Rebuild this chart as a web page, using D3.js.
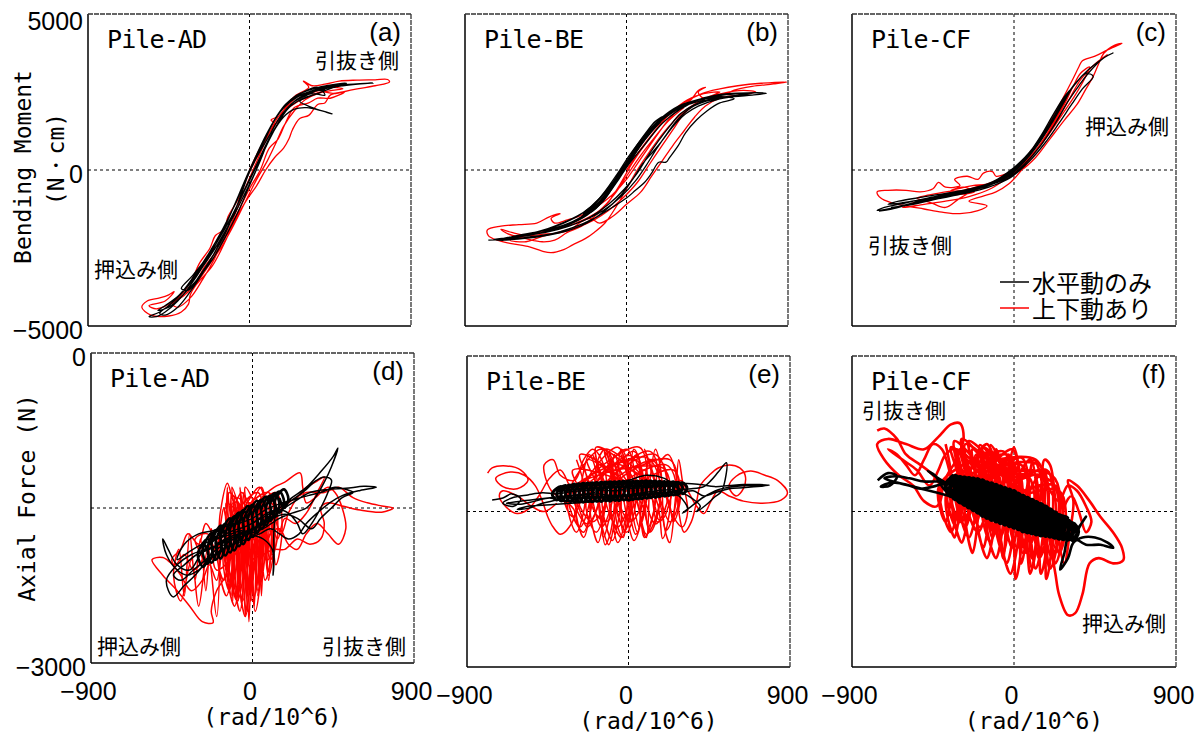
<!DOCTYPE html>
<html><head><meta charset="utf-8">
<script src="https://cdn.jsdelivr.net/npm/d3@7"></script>
<style>body{margin:0;background:#fff}</style>
</head><body>
<svg id="chart" width="1203" height="733"></svg>
<script>
const xTicks = [-900, 0, 900];
const momentTicks = [5000, 0, -5000];
const axialTicks = [0, -3000];
const pileNames = ["Pile-AD","Pile-BE","Pile-CF","Pile-AD","Pile-BE","Pile-CF"];
const panelTags = ["(a)","(b)","(c)","(d)","(e)","(f)"];
const seriesNames = ["水平動のみ","上下動あり"];
const sideLabels = ["押込み側","引抜き側"];

const blackA = [[0,0],[40,500],[90,1100],[150,1700],[200,2100],[260,2350],[340,2500],[420,2560],[380,2450],[300,2300],[220,2000],[160,1500],[100,900],[50,300],[0,-300],[-50,-900],[-110,-1600],[-180,-2300],[-250,-2900],[-320,-3400],[-380,-3800],[-340,-3850],[-280,-3400],[-210,-2800],[-140,-2100],[-80,-1300],[-30,-500],[20,200],[80,900],[140,1600],[200,2050],[270,2350],[370,2580],[500,2720],[690,2790],[620,2760],[520,2700],[430,2620],[340,2480],[260,2250],[200,1900],[140,1300],[80,600],[30,-100],[-30,-800],[-100,-1600],[-180,-2400],[-260,-3100],[-340,-3700],[-420,-4200],[-500,-4550],[-560,-4700],[-520,-4700],[-470,-4550],[-400,-4200],[-330,-3700],[-260,-3100],[-190,-2400],[-120,-1600],[-60,-800],[0,0],[60,700],[120,1400],[180,1950],[250,2350],[330,2560],[430,2700],[540,2780],[470,2650],[400,2500],[330,2350],[280,2200],[350,2000],[430,1850],[460,1800],[400,1900],[320,2000],[250,1950],[190,1700],[130,1200],[80,600],[20,-100],[-40,-800],[-110,-1600],[-190,-2400],[-280,-3200],[-360,-3800],[-440,-4300],[-500,-4600],[-470,-4650],[-400,-4400],[-330,-3900],[-260,-3300],[-190,-2600],[-120,-1800],[-60,-1000],[-10,-200],[40,500],[100,1200],[160,1800],[220,2200],[300,2500],[380,2650],[420,2400],[350,2450],[290,2350],[230,2100],[170,1600],[110,1000],[60,300],[0,-500],[-60,-1300],[-130,-2100],[-210,-2900],[-290,-3500],[-370,-4000],[-450,-4400],[-510,-4500],[-470,-4350],[-390,-4000],[-310,-3400],[-230,-2700],[-150,-1900],[-80,-1100],[-20,-300],[40,400],[110,1100],[170,1700],[240,2150],[320,2400],[400,2600],[480,2650]];
const redA = [[0,0],[50,600],[110,1200],[140,1500],[120,1600],[170,1750],[210,2100],[260,2400],[330,2650],[300,2850],[350,2700],[420,2750],[500,2850],[600,2880],[700,2890],[770,2900],[780,2820],[700,2700],[600,2600],[520,2500],[450,2400],[420,2150],[380,2100],[330,1750],[280,1650],[240,1300],[220,1000],[190,700],[140,400],[90,0],[40,-500],[-20,-1000],[-80,-1600],[-120,-2100],[-170,-2700],[-210,-3100],[-270,-3500],[-300,-3700],[-330,-4000],[-340,-4300],[-380,-4550],[-450,-4680],[-550,-4650],[-600,-4400],[-570,-4200],[-500,-4100],[-450,-4000],[-420,-3900],[-470,-4200],[-560,-4350],[-520,-4450],[-450,-4300],[-380,-4000],[-320,-3500],[-280,-3000],[-220,-2500],[-190,-2100],[-140,-1900],[-120,-1500],[-60,-900],[-20,-300],[40,400],[90,1000],[150,1500],[200,1900],[270,2200],[330,2350],[400,2500],[480,2450],[530,2500],[450,2300],[380,2300],[330,2150],[250,2000],[200,1500],[160,1000],[110,700],[60,0],[0,-600],[-60,-1300],[-110,-1900],[-170,-2500],[-250,-3100],[-300,-3600],[-360,-4000],[-430,-4300],[-400,-4400],[-330,-4100],[-260,-3500],[-200,-2900],[-160,-2400],[-100,-1700],[-40,-800],[20,0],[80,800],[120,1300],[160,1700],[220,2100],[280,2400],[360,2500],[440,2650],[520,2600],[460,2550],[380,2450],[310,2250],[250,1900],[190,1400],[150,900],[100,300],[40,-300],[-30,-1100],[-100,-1900],[-160,-2500],[-220,-3000],[-280,-3500],[-350,-3950],[-420,-4200],[-480,-4400]];

const blackB = [[-770,-2250],[-700,-2230],[-600,-2150],[-500,-2000],[-400,-1800],[-300,-1550],[-200,-1200],[-100,-600],[0,100],[100,800],[200,1500],[300,1950],[400,2250],[500,2400],[620,2460],[780,2460],[700,2400],[600,2350],[500,2250],[400,2050],[330,1800],[260,1400],[200,950],[150,600],[90,200],[40,-250],[-30,-800],[-120,-1300],[-220,-1700],[-330,-1950],[-450,-2100],[-580,-2200],[-700,-2250],[-650,-2180],[-550,-2100],[-430,-1950],[-320,-1750],[-220,-1450],[-130,-1000],[-60,-400],[10,200],[80,800],[160,1400],[240,1800],[330,2100],[430,2280],[530,2350],[600,2280],[520,2150],[450,1900],[390,1600],[330,1200],[290,800],[240,400],[220,250],[180,250],[140,-100],[100,-400],[50,-650],[0,-900],[-80,-1200],[-180,-1550],[-300,-1850],[-420,-2050],[-550,-2150],[-680,-2250],[-740,-2230],[-620,-2150],[-500,-2050],[-380,-1850],[-270,-1600],[-170,-1200],[-90,-600],[-20,0],[60,700],[140,1300],[230,1800],[320,2100],[430,2300],[560,2420],[700,2450],[600,2380],[480,2280],[380,2100],[300,1800],[240,1400],[180,950],[120,450],[60,-100],[-10,-600],[-100,-1100],[-200,-1500],[-320,-1800],[-450,-2000],[-580,-2100],[-700,-2200],[-600,-2100],[-480,-1950],[-350,-1700],[-250,-1400],[-150,-900],[-60,-200],[20,500],[100,1100],[190,1650],[290,2050],[400,2250],[520,2300],[440,2200],[360,2000],[290,1650],[230,1200],[170,700],[110,150],[50,-350],[-30,-850],[-130,-1300],[-250,-1650],[-380,-1900],[-520,-2050],[-650,-2150],[-560,-2050],[-430,-1900],[-300,-1650],[-190,-1250],[-100,-650],[-30,0],[50,600],[130,1200],[220,1700],[320,2050],[440,2250]];
const blackB2 = [[-250,-1500],[-200,-1250],[-150,-1000],[-100,-650],[-50,-250],[0,200],[50,650],[100,1050],[150,1400],[200,1700],[160,1550],[110,1200],[60,800],[10,350],[-40,-100],[-90,-500],[-140,-850],[-190,-1150],[-240,-1400],[-200,-1350],[-150,-1100],[-100,-750],[-50,-350],[0,100],[50,550],[100,950],[150,1300],[190,1550],[140,1250],[90,900],[40,450],[-10,0],[-60,-400],[-110,-800],[-160,-1100],[-210,-1350]];
const redB = [[0,0],[70,600],[150,1200],[230,1750],[320,2150],[420,2450],[520,2600],[620,2700],[750,2780],[894,2820],[820,2760],[700,2680],[600,2560],[560,2450],[500,2400],[430,2300],[400,2500],[440,2650],[400,2550],[360,2250],[300,2000],[240,1650],[180,1200],[120,700],[60,200],[0,-300],[-80,-800],[-160,-1150],[-250,-1450],[-330,-1600],[-400,-1700],[-420,-1550],[-370,-1400],[-430,-1500],[-500,-1700],[-600,-1750],[-700,-1800],[-775,-1920],[-770,-2100],[-720,-2250],[-650,-2350],[-550,-2450],[-470,-2600],[-420,-2650],[-350,-2550],[-300,-2400],[-230,-2200],[-180,-2000],[-120,-1700],[-60,-1200],[0,-600],[60,0],[130,600],[200,1150],[270,1600],[350,2000],[440,2300],[530,2450],[650,2550],[720,2500],[620,2400],[520,2300],[440,2050],[380,1700],[320,1250],[260,800],[200,300],[140,-200],[80,-700],[0,-1100],[-80,-1500],[-150,-1700],[-200,-1550],[-250,-1650],[-310,-1900],[-360,-2000],[-450,-2050],[-550,-2100],[-640,-2000],[-700,-1900],[-660,-2050],[-560,-2200],[-470,-2300],[-400,-2250],[-330,-2000],[-250,-1800],[-180,-1500],[-110,-1100],[-40,-500],[30,200],[100,800],[180,1400],[260,1900],[340,2250],[430,2450],[520,2500],[460,2350],[380,2100],[320,1800],[260,1300],[200,800],[130,200],[60,-400],[-20,-900],[-100,-1300],[-180,-1600],[-280,-1850],[-380,-2000],[-480,-2150],[-560,-2300],[-650,-2250],[-560,-2100],[-440,-1950],[-330,-1800],[-240,-1600],[-150,-1300],[-70,-800],[0,-200],[70,400],[150,1000],[230,1550],[320,2000]];

const blackC = [[-750,-1320],[-680,-1250],[-580,-1100],[-470,-950],[-350,-800],[-230,-650],[-120,-450],[-20,-100],[70,400],[160,1100],[250,2000],[330,2700],[420,3250],[500,3600],[550,3750],[500,3600],[420,3150],[360,2700],[300,2200],[230,1500],[150,800],[60,200],[-30,-250],[-150,-500],[-280,-700],[-420,-880],[-560,-1050],[-700,-1250],[-760,-1300],[-720,-1200],[-600,-1050],[-480,-900],[-350,-750],[-220,-580],[-100,-350],[0,0],[100,650],[190,1400],[270,2200],[340,2750],[400,3100],[440,3000],[380,2600],[320,2100],[250,1500],[170,850],[80,250],[-20,-250],[-140,-550],[-280,-760],[-420,-920],[-560,-1100],[-680,-1200],[-620,-1150],[-500,-1000],[-380,-850],[-260,-680],[-140,-450],[-40,-100],[60,400],[150,1050],[230,1800],[300,2450],[360,2900],[330,2700],[280,2200],[220,1600],[150,950],[70,350],[-30,-200],[-170,-520],[-330,-750],[-480,-920],[-620,-1050],[-700,-1100],[-640,-1000],[-520,-880],[-380,-750],[-240,-600],[-120,-380],[-20,-50],[80,500],[170,1200],[250,1950],[320,2600],[280,2350],[220,1800],[150,1100],[80,500],[0,-50],[-110,-420],[-250,-680],[-400,-870],[-560,-1000]];
const redC = [[0,0],[80,500],[160,1150],[230,1850],[290,2500],[330,2950],[360,3300],[380,3500],[450,3650],[520,3850],[600,4060],[560,4000],[500,3750],[470,3400],[440,3000],[400,2600],[350,2100],[280,1600],[200,1000],[120,400],[40,0],[-30,-100],[-100,-200],[-120,-50],[-170,-100],[-200,-300],[-260,-200],[-330,-300],[-300,-500],[-380,-550],[-420,-400],[-450,-600],[-520,-700],[-600,-650],[-700,-650],[-760,-700],[-740,-900],[-680,-1050],[-600,-1150],[-500,-1250],[-400,-1350],[-300,-1400],[-200,-1300],[-150,-1150],[-250,-1000],[-180,-850],[-100,-700],[-30,-450],[50,50],[130,700],[210,1400],[280,2100],[330,2700],[370,3100],[420,3300],[390,2900],[340,2400],[270,1800],[200,1200],[120,600],[40,100],[-50,-300],[-130,-600],[-250,-850],[-380,-1000],[-500,-1100],[-620,-1200],[-560,-1050],[-440,-900],[-330,-800],[-220,-700],[-280,-550],[-350,-650],[-230,-500],[-150,-450],[-60,-250],[30,150],[110,700],[190,1300],[260,1950],[310,2500],[280,2250],[220,1600],[150,1000],[70,400],[-20,-100],[-120,-400],[-220,-650],[-300,-900],[-380,-1200],[-460,-1050],[-540,-900],[-470,-800],[-380,-700],[-280,-650],[-180,-500],[-80,-300],[20,50],[100,500],[180,1100],[250,1700],[310,2300],[370,2900],[450,3400],[520,3700]];

const blackD = [[0,-1650],[80,-1550],[150,-1500],[220,-1400],[300,-1300],[380,-1150],[450,-1000],[476,-920],[440,-1100],[400,-1250],[350,-1400],[300,-1500],[220,-1550],[150,-1600],[60,-1700],[-20,-1750],[-100,-1800],[-180,-1850],[-260,-1900],[-340,-1950],[-420,-2050],[-480,-2200],[-443,-2360],[-380,-2250],[-320,-2150],[-250,-2000],[-200,-1850],[-150,-1800],[-80,-1750],[0,-1700],[80,-1620],[160,-1520],[240,-1430],[320,-1350],[420,-1320],[520,-1310],[620,-1290],[690,-1300],[600,-1330],[500,-1380],[430,-1450],[360,-1550],[300,-1650],[260,-1750],[200,-1800],[150,-1750],[100,-1700],[40,-1750],[-30,-1800],[-100,-1850],[-170,-1900],[-240,-2000],[-300,-2100],[-360,-2150],[-420,-2100],[-480,-1950],[-500,-1800],[-470,-1900],[-420,-2050],[-350,-2100],[-290,-1950],[-240,-1850],[-180,-1780],[-110,-1720],[-40,-1680],[30,-1620],[100,-1550],[170,-1480],[240,-1400],[300,-1320],[350,-1240],[400,-1200],[440,-1230],[420,-1350],[380,-1500],[330,-1650],[280,-1750],[250,-1650],[200,-1550],[140,-1520],[120,-1700],[120,-2000],[115,-2150],[110,-1900],[60,-1800],[0,-1760],[-60,-1720],[-130,-1760],[-200,-1800],[-280,-1850],[-350,-1920],[-420,-2000],[-380,-1850],[-300,-1750],[-220,-1720],[-150,-1680],[-80,-1650],[0,-1600],[70,-1520],[150,-1460],[230,-1420],[310,-1380],[380,-1350],[460,-1300],[520,-1320],[560,-1350],[500,-1400],[440,-1500],[380,-1600],[330,-1700],[250,-1600],[180,-1560],[110,-1600],[40,-1680],[-30,-1720],[-100,-1780],[-170,-1830],[-240,-1900],[-310,-1950],[-380,-2050],[-440,-2150],[-400,-2200],[-330,-2100],[-260,-2000],[-200,-1900],[-130,-1830],[-60,-1750],[10,-1700]];
const blackD2 = [[-275,-1830],[-245,-1950],[-275,-2070],[-305,-1950],[-250,-1800],[-222,-1920],[-252,-2040],[-278,-1910],[-225,-1740],[-198,-1890],[-228,-2030],[-250,-1880],[-200,-1710],[-172,-1860],[-204,-2000],[-228,-1850],[-176,-1670],[-150,-1830],[-178,-1990],[-205,-1830],[-150,-1650],[-122,-1800],[-152,-1960],[-178,-1790],[-126,-1600],[-98,-1770],[-125,-1930],[-152,-1770],[-100,-1580],[-72,-1740],[-102,-1910],[-128,-1735],[-75,-1545],[-48,-1710],[-76,-1870],[-102,-1700],[-50,-1520],[-22,-1680],[-52,-1850],[-78,-1680],[-25,-1480],[2,-1650],[-24,-1810],[-52,-1645],[0,-1470],[28,-1620],[2,-1780],[-26,-1615],[25,-1430],[52,-1590],[24,-1745],[-2,-1590],[50,-1420],[78,-1560],[52,-1700],[22,-1555],[75,-1390],[102,-1530],[76,-1665],[48,-1525],[100,-1380],[126,-1500],[100,-1625],[74,-1500],[125,-1355],[150,-1470],[126,-1585],[98,-1465],[150,-1340],[176,-1440],[152,-1545],[124,-1440],[175,-1320],[200,-1410],[176,-1500],[150,-1405]];
const redD = [[0,-1700],[100,-1600],[200,-1450],[300,-1350],[400,-1350],[480,-1300],[560,-1400],[640,-1450],[720,-1480],[784,-1500],[720,-1540],[600,-1520],[500,-1480],[420,-1450],[380,-1500],[400,-1650],[380,-1800],[320,-1850],[250,-1800],[180,-1900],[120,-1900],[60,-1950],[0,-2000],[-30,-2500],[-50,-1600],[-70,-2300],[-90,-1500],[-110,-2400],[-120,-1350],[-130,-2200],[-140,-1300],[-150,-2100],[-100,-1450],[-80,-2400],[-60,-1650],[-40,-2550],[-20,-1700],[0,-2300],[20,-1600],[40,-2200],[60,-1500],[80,-2100],[100,-1450],[110,-1900],[130,-1350],[90,-2000],[70,-1400],[50,-2350],[30,-1550],[10,-2450],[-10,-1650],[-30,-2100],[-50,-1350],[-80,-2200],[-110,-1450],[-150,-2150],[-200,-2300],[-230,-2500],[-220,-2610],[-280,-2600],[-350,-2450],[-420,-2300],[-500,-2150],[-560,-2000],[-500,-1980],[-430,-2050],[-380,-1950],[-330,-2100],[-280,-2000],[-320,-1800],[-250,-1750],[-200,-1950],[-180,-1550],[-140,-1260],[-100,-1450],[-60,-1350],[0,-1500],[50,-1400],[120,-1300],[180,-1250],[265,-1160],[280,-1300],[300,-1450],[350,-1400],[420,-1300],[460,-1350],[500,-1500],[520,-1700],[480,-1850],[420,-1750],[360,-1650],[300,-1750],[250,-1900],[200,-1850],[150,-1700],[100,-1750],[70,-2000],[50,-1500],[30,-2250],[10,-1550],[-10,-2400],[-30,-1600],[-50,-2250],[-70,-1500],[-90,-2350],[-110,-1650],[-130,-2100],[-160,-1500],[-200,-1800],[-260,-1650],[-300,-1850],[-360,-1750],[-400,-1900],[-450,-2000],[-400,-2150],[-340,-2300],[-280,-2200],[-240,-2050],[-200,-2200],[-160,-1800],[-120,-2350],[-90,-1600],[-60,-2450],[-40,-1550],[-20,-2600],[0,-1800],[30,-2350],[60,-1700],[90,-2200],[120,-1600],[160,-1750],[200,-1550],[250,-1400],[300,-1300],[350,-1250],[400,-1200],[360,-1350],[300,-1550],[240,-1650],[180,-1600],[140,-1800],[100,-1650],[60,-1850]];
const redD2 = [[-160,-1500],[-125,-1850],[-160,-2200],[-195,-1850],[30,-1350],[60,-1850],[30,-2300],[0,-1850],[-100,-1400],[-60,-1850],[-100,-2450],[-140,-1850],[110,-1400],[140,-1750],[110,-1950],[80,-1750],[-40,-1300],[-5,-1900],[-40,-2550],[-75,-1900],[70,-1450],[110,-1800],[70,-2200],[30,-1800],[-130,-1350],[-100,-1900],[-130,-2300],[-160,-1900],[0,-1500],[45,-1850],[0,-2400],[-45,-1850],[-70,-1300],[-40,-1850],[-70,-2500],[-100,-1850],[130,-1350],[165,-1700],[130,-2050],[95,-1700],[-20,-1450],[20,-1850],[-20,-2250],[-60,-1850],[50,-1300],[80,-1800],[50,-2100],[20,-1800],[-145,-1450],[-105,-1850],[-145,-2350],[-185,-1850],[90,-1350],[125,-1750],[90,-2150],[55,-1750],[-55,-1500],[-25,-1900],[-55,-2400],[-85,-1900],[15,-1400],[55,-1850],[15,-2500],[-25,-1850],[-115,-1300],[-80,-1850],[-115,-2250],[-150,-1850],[100,-1450],[140,-1750],[100,-2000],[60,-1750],[-85,-1400],[-40,-1900],[-85,-2400],[-130,-1900],[40,-1300],[75,-1800],[40,-2250],[5,-1800],[-200,-2100],[-230,-1700],[-260,-2300],[-290,-1800],[-320,-2200],[-350,-1750],[-380,-2350],[-410,-1900],[-440,-2150],[-400,-2400],[-340,-2000],[-300,-2450],[-250,-1900],[-200,-2550],[-180,-1800]];

const blackE = [[-760,-1390],[-700,-1370],[-650,-1330],[-600,-1380],[-640,-1450],[-700,-1420],[-650,-1370],[-560,-1340],[-480,-1320],[-400,-1330],[-320,-1310],[-240,-1300],[-160,-1290],[-80,-1300],[0,-1280],[80,-1270],[160,-1260],[240,-1250],[320,-1230],[400,-1240],[480,-1260],[560,-1250],[640,-1240],[720,-1240],[785,-1245],[720,-1260],[640,-1270],[560,-1280],[480,-1320],[420,-1350],[360,-1300],[300,-1320],[240,-1340],[160,-1350],[80,-1370],[0,-1390],[-80,-1380],[-160,-1400],[-240,-1410],[-320,-1420],[-400,-1430],[-480,-1440],[-560,-1450],[-620,-1480],[-560,-1470],[-480,-1420],[-400,-1390],[-320,-1350],[-240,-1340],[-160,-1330],[-80,-1350],[0,-1340],[80,-1320],[160,-1300],[240,-1290],[300,-1320],[360,-1380],[400,-1450],[380,-1500],[430,-1440],[480,-1360],[520,-1300],[546,-1030],[500,-1120],[460,-1200],[420,-1260],[350,-1280],[280,-1280],[200,-1180],[100,-1150],[0,-1200],[-100,-1250],[-200,-1320],[-300,-1340],[-400,-1360],[-500,-1380],[-600,-1400],[-680,-1420],[-600,-1430],[-520,-1400],[-440,-1370],[-360,-1400],[-280,-1380],[-200,-1360],[-120,-1370],[-40,-1350],[40,-1330],[120,-1310],[200,-1330],[280,-1350],[330,-1480],[300,-1515],[350,-1450],[420,-1360],[500,-1290],[580,-1260],[660,-1250],[740,-1245]];
const blackE2 = [[-400,-1270],[-375,-1330],[-400,-1390],[-425,-1330],[-376,-1258],[-350,-1328],[-374,-1398],[-400,-1326],[-350,-1250],[-324,-1326],[-352,-1402],[-376,-1324],[-326,-1244],[-298,-1324],[-324,-1405],[-350,-1322],[-300,-1236],[-274,-1322],[-302,-1408],[-326,-1320],[-276,-1232],[-248,-1320],[-274,-1406],[-302,-1318],[-250,-1228],[-224,-1318],[-252,-1410],[-276,-1316],[-226,-1226],[-198,-1316],[-224,-1404],[-252,-1314],[-200,-1222],[-172,-1314],[-202,-1406],[-226,-1312],[-176,-1220],[-148,-1312],[-174,-1402],[-202,-1310],[-150,-1218],[-122,-1310],[-152,-1404],[-176,-1308],[-126,-1216],[-98,-1308],[-124,-1398],[-152,-1306],[-100,-1214],[-72,-1306],[-102,-1400],[-126,-1304],[-76,-1212],[-48,-1304],[-74,-1394],[-102,-1302],[-50,-1210],[-22,-1302],[-52,-1396],[-76,-1300],[-26,-1208],[2,-1300],[-24,-1390],[-52,-1298],[0,-1206],[28,-1298],[2,-1392],[-26,-1296],[26,-1208],[52,-1296],[24,-1384],[-2,-1294],[50,-1206],[78,-1294],[52,-1380],[24,-1292],[76,-1206],[102,-1292],[74,-1376],[48,-1290],[100,-1204],[128,-1290],[102,-1372],[74,-1288],[126,-1206],[152,-1288],[124,-1368],[98,-1286],[150,-1206],[178,-1286],[152,-1364],[124,-1284],[176,-1208],[202,-1284],[174,-1358],[148,-1282],[200,-1210],[228,-1282],[202,-1352],[174,-1280],[226,-1212],[252,-1280],[224,-1348],[198,-1278],[250,-1214],[278,-1278],[252,-1342],[224,-1276],[276,-1218],[302,-1276],[274,-1334],[248,-1274],[300,-1222],[326,-1274],[302,-1328],[274,-1272]];
const redE = [[-785,-1130],[-760,-1080],[-680,-1060],[-600,-1100],[-560,-1200],[-620,-1280],[-700,-1260],[-740,-1180],[-660,-1120],[-580,-1150],[-520,-1250],[-480,-1400],[-450,-1550],[-420,-1650],[-380,-1720],[-330,-1650],[-300,-1500],[-350,-1400],[-430,-1300],[-470,-1050],[-420,-1000],[-380,-1150],[-300,-1200],[-250,-1000],[-200,-900],[-150,-1000],[-120,-1300],[-150,-1600],[-140,-1750],[-100,-1500],[-80,-950],[-50,-1100],[-30,-1700],[0,-1600],[20,-1000],[50,-950],[70,-1600],[100,-1750],[120,-1200],[150,-900],[180,-1100],[200,-1650],[230,-1800],[260,-1400],[280,-1000],[300,-1200],[330,-1500],[300,-1650],[250,-1550],[200,-1300],[160,-1050],[120,-1000],[80,-1350],[50,-1700],[20,-1500],[-10,-1000],[-40,-900],[-70,-1300],[-100,-1700],[-130,-1820],[-160,-1450],[-190,-1050],[-220,-950],[-260,-1200],[-290,-1600],[-250,-1700],[-200,-1400],[-170,-1000],[-130,-900],[-90,-1250],[-60,-1650],[-30,-1750],[0,-1300],[30,-900],[60,-1000],[90,-1400],[110,-1650],[140,-1500],[170,-1050],[220,-950],[260,-1100],[280,-1500],[310,-1700],[350,-1600],[380,-1400],[400,-1250],[450,-1150],[500,-1080],[563,-1052],[620,-1080],[650,-1150],[640,-1280],[600,-1350],[560,-1260],[600,-1160],[680,-1110],[760,-1150],[830,-1200],[886,-1320],[850,-1390],[746,-1420],[640,-1400],[560,-1350],[500,-1300],[460,-1400],[420,-1520],[380,-1450],[330,-1300],[290,-1200],[240,-1350],[200,-1550],[160,-1600],[130,-1350],[90,-1100],[50,-1150],[10,-1450],[-20,-1600],[-60,-1400],[-100,-1100],[-140,-1150],[-180,-1500],[-230,-1650],[-280,-1450],[-330,-1250],[-380,-1100],[-440,-1180],[-500,-1350],[-560,-1480],[-620,-1520],[-680,-1460],[-720,-1350],[-700,-1300],[-620,-1350],[-540,-1450],[-470,-1500],[-400,-1420]];
const redE2 = [[-290,-1000],[-240,-1350],[-290,-1700],[-340,-1350],[-150,-900],[-80,-1250],[-150,-1650],[-220,-1250],[-250,-1050],[-210,-1400],[-250,-1750],[-290,-1400],[-60,-880],[0,-1300],[-60,-1800],[-120,-1300],[-200,-950],[-120,-1350],[-200,-1600],[-280,-1350],[40,-1000],[90,-1400],[40,-1720],[-10,-1400],[-110,-920],[-65,-1300],[-110,-1820],[-155,-1300],[150,-950],[220,-1350],[150,-1620],[80,-1350],[-20,-1050],[35,-1250],[-20,-1680],[-75,-1250],[230,-1000],[280,-1400],[230,-1600],[180,-1400],[90,-900],[155,-1300],[90,-1750],[25,-1300],[-270,-950],[-210,-1300],[-270,-1650],[-330,-1300],[190,-1080],[235,-1350],[190,-1760],[145,-1350],[-180,-880],[-125,-1400],[-180,-1700],[-235,-1400],[10,-960],[85,-1350],[10,-1600],[-65,-1350],[-90,-1000],[-40,-1300],[-90,-1780],[-140,-1300],[120,-920],[175,-1400],[120,-1700],[65,-1400],[-230,-1000],[-160,-1350],[-230,-1620],[-300,-1350],[60,-880],[105,-1300],[60,-1650],[15,-1300],[-40,-950],[20,-1350],[-40,-1750],[-100,-1350],[210,-1050],[270,-1300],[210,-1680],[150,-1300],[-130,-900],[-55,-1400],[-130,-1600],[-205,-1400],[170,-1000],[220,-1350],[170,-1580],[120,-1350],[-310,-1100],[-265,-1350],[-310,-1550],[-355,-1350],[100,-980],[180,-1300],[100,-1720],[20,-1300],[-170,-1050],[-130,-1350],[-170,-1800],[-210,-1350],[-10,-900],[40,-1400],[-10,-1700],[-60,-1400],[250,-1100],[290,-1350],[250,-1600],[210,-1350],[-60,-1050],[10,-1300],[-60,-1650],[-130,-1300],[30,-920],[90,-1350],[30,-1780],[-30,-1350]];

const blackF = [[-757,-1200],[-700,-1130],[-650,-1160],[-690,-1250],[-740,-1260],[-680,-1220],[-600,-1240],[-520,-1280],[-450,-1260],[-380,-1230],[-300,-1260],[-220,-1300],[-150,-1350],[-80,-1400],[0,-1450],[80,-1500],[150,-1560],[220,-1600],[290,-1640],[340,-1700],[380,-1600],[400,-1550],[360,-1650],[300,-1750],[280,-1900],[256,-2060],[300,-1950],[330,-1800],[380,-1750],[450,-1750],[520,-1800],[551,-1850],[480,-1820],[400,-1820],[330,-1750],[260,-1720],[200,-1680],[130,-1640],[60,-1580],[-10,-1520],[-80,-1460],[-150,-1420],[-230,-1380],[-300,-1330],[-380,-1300],[-440,-1150],[-480,-1110],[-420,-1180],[-360,-1240],[-280,-1300],[-200,-1340],[-120,-1380],[-40,-1420],[40,-1480],[120,-1530],[190,-1580],[250,-1620],[300,-1560],[250,-1530],[180,-1500],[110,-1460],[40,-1420],[-30,-1380],[-100,-1340],[-170,-1300],[-250,-1250],[-330,-1230],[-410,-1210],[-500,-1210],[-580,-1180],[-660,-1160],[-720,-1180],[-650,-1220],[-560,-1260],[-470,-1300],[-380,-1340],[-290,-1380],[-200,-1420],[-120,-1460],[-50,-1520],[20,-1580],[90,-1620],[160,-1670],[230,-1700],[200,-1640],[130,-1600],[60,-1540],[-10,-1480],[-90,-1420],[-170,-1380],[-250,-1340],[-320,-1290],[-260,-1310],[-180,-1360],[-100,-1400],[-20,-1450],[60,-1500],[140,-1550],[210,-1560],[140,-1510],[70,-1470],[0,-1430],[-70,-1400]];
const blackF2 = [[-350,-1150],[-320,-1250],[-350,-1350],[-380,-1250],[-325,-1160],[-295,-1270],[-325,-1380],[-355,-1270],[-300,-1170],[-270,-1290],[-300,-1410],[-330,-1290],[-275,-1175],[-245,-1305],[-275,-1435],[-305,-1305],[-250,-1180],[-220,-1320],[-250,-1460],[-280,-1320],[-225,-1185],[-195,-1335],[-225,-1485],[-255,-1335],[-200,-1190],[-170,-1350],[-200,-1510],[-230,-1350],[-175,-1200],[-145,-1370],[-175,-1540],[-205,-1370],[-150,-1220],[-120,-1390],[-150,-1560],[-180,-1390],[-125,-1230],[-95,-1405],[-125,-1580],[-155,-1405],[-100,-1245],[-70,-1420],[-100,-1595],[-130,-1420],[-75,-1260],[-45,-1435],[-75,-1610],[-105,-1435],[-50,-1275],[-20,-1450],[-50,-1625],[-80,-1450],[-25,-1290],[5,-1465],[-25,-1640],[-55,-1465],[0,-1305],[30,-1480],[0,-1655],[-30,-1480],[25,-1330],[55,-1500],[25,-1670],[-5,-1500],[50,-1350],[80,-1520],[50,-1690],[20,-1520],[75,-1370],[105,-1535],[75,-1700],[45,-1535],[100,-1390],[130,-1550],[100,-1710],[70,-1550],[125,-1410],[155,-1565],[125,-1720],[95,-1565],[150,-1430],[180,-1580],[150,-1730],[120,-1580],[175,-1455],[205,-1595],[175,-1735],[145,-1595],[200,-1480],[230,-1610],[200,-1740],[170,-1610],[225,-1510],[255,-1630],[225,-1750],[195,-1630],[250,-1540],[280,-1650],[250,-1760],[220,-1650],[275,-1565],[305,-1665],[275,-1765],[245,-1665],[300,-1590],[330,-1680],[300,-1770],[270,-1680],[325,-1615],[355,-1695],[325,-1775],[295,-1695]];
const redF = [[-760,-720],[-720,-700],[-650,-800],[-600,-950],[-520,-1050],[-450,-1150],[-400,-1300],[-430,-1450],[-500,-1400],[-560,-1250],[-640,-1150],[-720,-1000],[-760,-850],[-700,-800],[-600,-850],[-500,-900],[-420,-780],[-350,-660],[-300,-650],[-280,-800],[-320,-1000],[-380,-1200],[-350,-1400],[-300,-1600],[-250,-1500],[-220,-1200],[-200,-950],[-150,-850],[-100,-1100],[-120,-1400],[-80,-1700],[-60,-1950],[-40,-1500],[-20,-1000],[0,-880],[30,-1100],[50,-1500],[80,-1900],[100,-2050],[130,-1700],[150,-1300],[170,-1000],[200,-1050],[230,-1400],[250,-1800],[280,-2000],[310,-1700],[330,-1400],[300,-1200],[350,-1250],[420,-1400],[480,-1550],[550,-1700],[600,-1850],[607,-1970],[550,-2000],[470,-1950],[420,-2000],[380,-2300],[340,-2480],[300,-2500],[250,-2300],[230,-2100],[200,-1800],[170,-1500],[140,-1250],[110,-1400],[80,-1700],[50,-1900],[20,-1600],[0,-1200],[-30,-950],[-60,-1200],[-90,-1500],[-120,-1750],[-150,-1500],[-180,-1200],[-210,-950],[-240,-1100],[-270,-1350],[-300,-1550],[-330,-1350],[-360,-1100],[-400,-900],[-450,-850],[-500,-1000],[-550,-1150],[-600,-1050],[-650,-950],[-700,-900],[-620,-1000],[-540,-1100],[-470,-1250],[-420,-1100],[-380,-950],[-330,-900],[-290,-1100],[-250,-1300],[-210,-1600],[-170,-1350],[-130,-1050],[-100,-900],[-70,-1100],[-40,-1400],[-10,-1750],[20,-1850],[50,-1500],[80,-1200],[110,-1000],[140,-1100],[170,-1400],[200,-1650],[230,-1850],[260,-1650],[280,-1450],[320,-1350],[360,-1500],[400,-1700],[430,-1600],[400,-1450],[350,-1300],[300,-1250],[250,-1400],[200,-1300],[150,-1150],[100,-1250],[60,-1450],[20,-1300],[-20,-1100],[-60,-1000],[-100,-1200],[-140,-1350],[-180,-1100],[-220,-1000]];
const redF2 = [[-380,-850],[-345,-1250],[-380,-1600],[-415,-1250],[-100,-950],[-55,-1450],[-100,-1950],[-145,-1450],[150,-1150],[190,-1600],[150,-2100],[110,-1600],[-250,-820],[-200,-1300],[-250,-1750],[-300,-1300],[40,-1050],[75,-1550],[40,-2000],[5,-1550],[-320,-900],[-280,-1280],[-320,-1650],[-360,-1280],[200,-1200],[250,-1650],[200,-2050],[150,-1650],[-170,-880],[-135,-1400],[-170,-1850],[-205,-1400],[-20,-1000],[35,-1500],[-20,-2100],[-75,-1500],[100,-1100],[140,-1600],[100,-1950],[60,-1600],[-290,-800],[-245,-1300],[-290,-1800],[-335,-1300],[-60,-920],[-25,-1480],[-60,-1900],[-95,-1480],[230,-1250],[270,-1700],[230,-2000],[190,-1700],[-200,-950],[-145,-1380],[-200,-1700],[-255,-1380],[10,-1080],[50,-1550],[10,-2150],[-30,-1550],[-350,-880],[-300,-1250],[-350,-1700],[-400,-1250],[120,-1000],[165,-1620],[120,-2050],[75,-1620],[-130,-860],[-90,-1420],[-130,-1800],[-170,-1420],[70,-1150],[120,-1580],[70,-1900],[20,-1580],[-230,-900],[-195,-1350],[-230,-1900],[-265,-1350],[-80,-1000],[-30,-1450],[-80,-1750],[-130,-1450],[180,-1100],[215,-1650],[180,-2150],[145,-1650],[-270,-850],[-230,-1320],[-270,-1650],[-310,-1320],[-40,-950],[5,-1500],[-40,-2000],[-85,-1500],[250,-1300],[285,-1700],[250,-1900],[215,-1700],[-150,-920],[-100,-1400],[-150,-1950],[-200,-1400],[40,-980],[85,-1550],[40,-1850],[-5,-1550],[-330,-820],[-295,-1280],[-330,-1750],[-365,-1280],[140,-1050],[190,-1600],[140,-1950],[90,-1600],[-190,-860],[-145,-1380],[-190,-1650],[-235,-1380],[-10,-900],[25,-1500],[-10,-1850],[-45,-1500],[90,-1000],[130,-1580],[90,-2100],[50,-1580],[-110,-950],[-55,-1430],[-110,-1700],[-165,-1430],[-300,-900],[-255,-1300],[-300,-1600],[-345,-1300],[210,-1150],[250,-1680],[210,-1950],[170,-1680]];

const MONO = "'DejaVu Sans Mono', monospace";
const SANS = "'Liberation Sans', Arial, sans-serif";
const JP = "'Noto Sans CJK JP', sans-serif";

const panels = [
  {x0:88, x1:411, y0:14, y1:326, dom:[-5000,5000], mid:0, blacks:[blackA], blobs:[], reds:[redA], sw:1.3, bw:1.3, yt:momentTicks},
  {x0:465,x1:788, y0:14, y1:326, dom:[-5000,5000], mid:0, blacks:[blackB], blobs:[blackB2], reds:[redB], sw:1.3, bw:1.6},
  {x0:852,x1:1176,y0:14, y1:326, dom:[-5000,5000], mid:0, blacks:[blackC], blobs:[], reds:[redC], sw:1.3, bw:1.3},
  {x0:91, x1:414, y0:353,y1:663, dom:[-3000,0], mid:-1500, blacks:[blackD], blobs:[blackD2], reds:[redD, redD2], sw:1.5, bw:2.6, yt:axialTicks, xt:true},
  {x0:467,x1:790, y0:356,y1:667, dom:[-3000,0], mid:-1500, blacks:[blackE], blobs:[blackE2], reds:[redE, redE2], sw:1.5, bw:3, xt:true},
  {x0:852,x1:1176,y0:356,y1:667, dom:[-3000,0], mid:-1500, blacks:[blackF], blobs:[blackF2], reds:[redF, redF2], sw:2.6, bw:4.5, xt:true}
];

const svg = d3.select("#chart");
panels.forEach((p, i) => {
  const xs = d3.scaleLinear().domain([-900, 900]).range([p.x0, p.x1]);
  const ys = d3.scaleLinear().domain(p.dom).range([p.y1, p.y0]);
  const g = svg.append("g");
  const cid = "clip" + i;
  svg.append("clipPath").attr("id", cid).append("rect")
    .attr("x", p.x0).attr("y", p.y0).attr("width", p.x1 - p.x0).attr("height", p.y1 - p.y0);
  g.append("line").attr("x1", xs(0)).attr("x2", xs(0)).attr("y1", p.y0).attr("y2", p.y1)
    .attr("stroke", "#000").attr("stroke-width", 1).attr("stroke-dasharray", "3,3");
  g.append("line").attr("x1", p.x0).attr("x2", p.x1).attr("y1", ys(p.mid)).attr("y2", ys(p.mid))
    .attr("stroke", "#000").attr("stroke-width", 1).attr("stroke-dasharray", "3,3");
  const line = d3.line().x(d => xs(d[0])).y(d => ys(d[1])).curve(d3.curveCatmullRom.alpha(0.5));
  const dg = g.append("g").attr("clip-path", `url(#${cid})`);
  p.reds.forEach(s => dg.append("path").datum(s).attr("d", line).attr("fill", "none")
    .attr("stroke", "#ff0000").attr("stroke-width", p.sw).attr("stroke-linejoin", "round"));
  p.blacks.forEach(s => dg.append("path").datum(s).attr("d", line).attr("fill", "none")
    .attr("stroke", "#000").attr("stroke-width", p.sw).attr("stroke-linejoin", "round"));
  p.blobs.forEach(s => dg.append("path").datum(s).attr("d", line).attr("fill", "none")
    .attr("stroke", "#000").attr("stroke-width", p.bw).attr("stroke-linejoin", "round"));
  g.append("line").attr("x1", p.x0).attr("x2", p.x0).attr("y1", p.y0).attr("y2", p.y1).attr("stroke", "#000").attr("stroke-width", 1.5);
  g.append("line").attr("x1", p.x0).attr("x2", p.x1).attr("y1", p.y1).attr("y2", p.y1).attr("stroke", "#000").attr("stroke-width", 1.5);
  g.append("line").attr("x1", p.x0).attr("x2", p.x1).attr("y1", p.y0).attr("y2", p.y0).attr("stroke", "#333").attr("stroke-width", 1.3).attr("stroke-dasharray", "5,1");
  g.append("line").attr("x1", p.x1).attr("x2", p.x1).attr("y1", p.y0).attr("y2", p.y1).attr("stroke", "#333").attr("stroke-width", 1.3).attr("stroke-dasharray", "5,1");
  g.append("text").attr("x", p.x0 + 19).attr("y", p.y0 + 34)
    .attr("font-family", MONO).attr("font-size", 25).attr("textLength", 100).text(pileNames[i]);
  g.append("text").attr("x", p.x1 - 10).attr("y", p.y0 + 27).attr("text-anchor", "end")
    .attr("font-family", SANS).attr("font-size", 26).text(panelTags[i]);
  if (p.yt) {
    const ax = g.append("g").attr("transform", `translate(${p.x0},0)`)
      .call(d3.axisLeft(ys).tickValues(p.yt).tickSize(0).tickPadding(5).tickFormat(d3.format("d")));
    ax.select(".domain").remove();
    ax.selectAll("text").attr("font-family", SANS).attr("font-size", 25).attr("fill", "#000")
      .attr("dy", d => (d === 5000 ? "0.62em" : "0.5em"));
  }
  if (p.xt) {
    const ax = g.append("g").attr("transform", `translate(-3,${p.y1})`)
      .call(d3.axisBottom(xs).tickValues(xTicks).tickSize(0).tickPadding(19).tickFormat(d3.format("d")));
    ax.select(".domain").remove();
    ax.selectAll("text").attr("font-family", SANS).attr("font-size", 25).attr("fill", "#000");
    g.append("text").attr("x", (p.x0 + p.x1) / 2 + 20).attr("y", p.y1 + 62).attr("text-anchor", "middle")
      .attr("font-family", MONO).attr("font-size", 23).text("(rad/10^6)");
  }
});

svg.append("text").attr("transform", "translate(31,167) rotate(-90)").attr("text-anchor", "middle")
  .attr("font-family", MONO).attr("font-size", 23).text("Bending Moment");
svg.append("text").attr("transform", "translate(64,159) rotate(-90)").attr("text-anchor", "middle")
  .attr("font-family", MONO).attr("font-size", 23).text("(N・cm)");
svg.append("text").attr("transform", "translate(35,498) rotate(-90)").attr("text-anchor", "middle")
  .attr("font-family", MONO).attr("font-size", 23).text("Axial Force (N)");

const notes = [
  {x:315, y:68, t:1}, {x:94, y:277, t:0},
  {x:1085, y:134, t:0}, {x:868, y:253, t:1},
  {x:97, y:654, t:0}, {x:322, y:654, t:1},
  {x:862, y:418, t:1}, {x:1082, y:631, t:0}
];
notes.forEach(n => svg.append("text").attr("x", n.x).attr("y", n.y)
  .attr("font-family", JP).attr("font-size", 21).text(sideLabels[n.t]));

const legColors = ["#000", "#ff0000"];
seriesNames.forEach((s, k) => {
  const y = 282 + k * 26;
  svg.append("line").attr("x1", 1000).attr("x2", 1029).attr("y1", y).attr("y2", y)
    .attr("stroke", legColors[k]).attr("stroke-width", 1.5);
  svg.append("text").attr("x", 1032).attr("y", y + 10).attr("font-family", JP).attr("font-size", 24).text(s);
});
</script>
</body></html>
